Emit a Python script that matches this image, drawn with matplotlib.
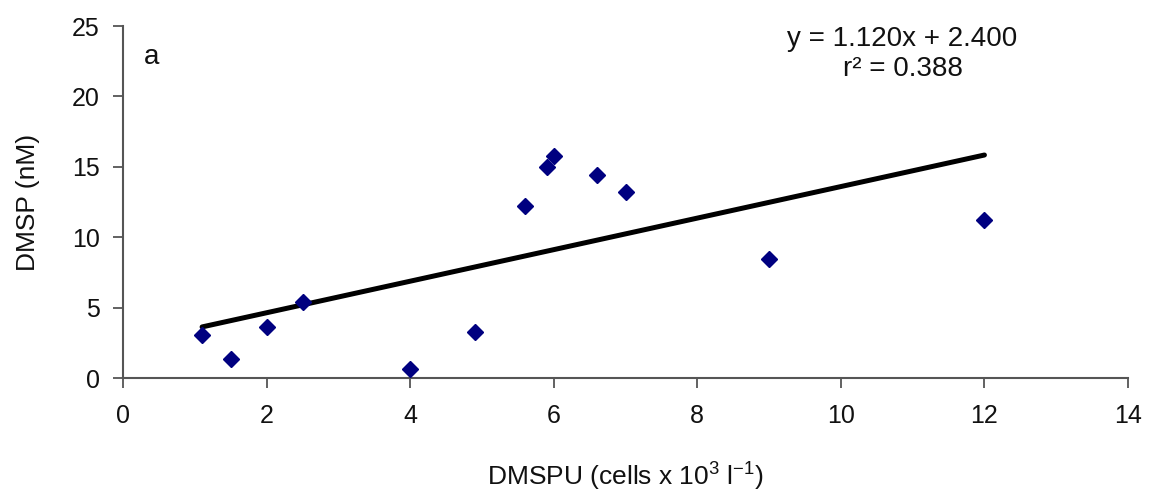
import matplotlib
matplotlib.use("Agg")
import matplotlib.pyplot as plt
import numpy as np

plt.rcParams['font.family'] = ['Liberation Sans', 'DejaVu Sans']
plt.rcParams['mathtext.fontset'] = 'custom'
plt.rcParams['mathtext.rm'] = 'Liberation Sans'
plt.rcParams['mathtext.it'] = 'Liberation Sans'
plt.rcParams['mathtext.default'] = 'rm'

dmspu = [1.1, 1.5, 2.0, 2.5, 4.0, 4.9, 5.6, 5.9, 6.0, 6.6, 7.0, 9.0, 12.0]
dmsp = [3.05, 1.35, 3.6, 5.4, 0.65, 3.3, 12.2, 15.0, 15.8, 14.4, 13.2, 8.45, 11.2]
slope = 1.120
intercept = 2.400
r2 = 0.388
x_ticks = [0, 2, 4, 6, 8, 10, 12, 14]
y_ticks = [0, 5, 10, 15, 20, 25]

fig = plt.figure(figsize=(11.51, 4.91), dpi=100)
ax = fig.add_axes([0.107, 0.23, 0.873, 0.717])

xl = np.array([min(dmspu), max(dmspu)])
ax.plot(xl, slope * xl + intercept, color='black', lw=3.6, solid_capstyle='round', zorder=2)
ax.plot(dmspu, dmsp, linestyle='none', marker='D', ms=8, color='#000080',
        markeredgecolor='#000080', zorder=3)

ax.set_xlim(0, 14)
ax.set_ylim(0, 25)
ax.set_xticks(x_ticks)
ax.set_yticks(y_ticks)
for s in ['top', 'right']:
    ax.spines[s].set_visible(False)
for s in ['left', 'bottom']:
    ax.spines[s].set_color('#555555')
    ax.spines[s].set_linewidth(1.5)
ax.tick_params(axis='both', direction='out', length=7, width=1.3, color='#555555',
               labelsize=18, labelcolor='#111111')
ax.tick_params(axis='x', pad=12)
ax.tick_params(axis='y', pad=10)

ax.set_xlabel('DMSPU (cells x 10$^{3}$ l$^{-1}$)', fontsize=19, color='#111111')
ax.set_ylabel('DMSP (nM)', fontsize=19, color='#111111')
ax.xaxis.set_label_coords(0.5, -0.235)
ax.yaxis.set_label_coords(-0.083, 0.5)

ax.text(0.4, 22.8, 'a', fontsize=20, ha='center', va='center', color='#111111')
ax.text(10.86, 24.1, 'y = %.3fx + %.3f' % (slope, intercept), fontsize=20,
        ha='center', va='center', color='#111111')
ax.text(10.86, 21.95, 'r² = %.3f' % r2, fontsize=20, ha='center', va='center', color='#111111')

fig.savefig('out.png', dpi=100)
